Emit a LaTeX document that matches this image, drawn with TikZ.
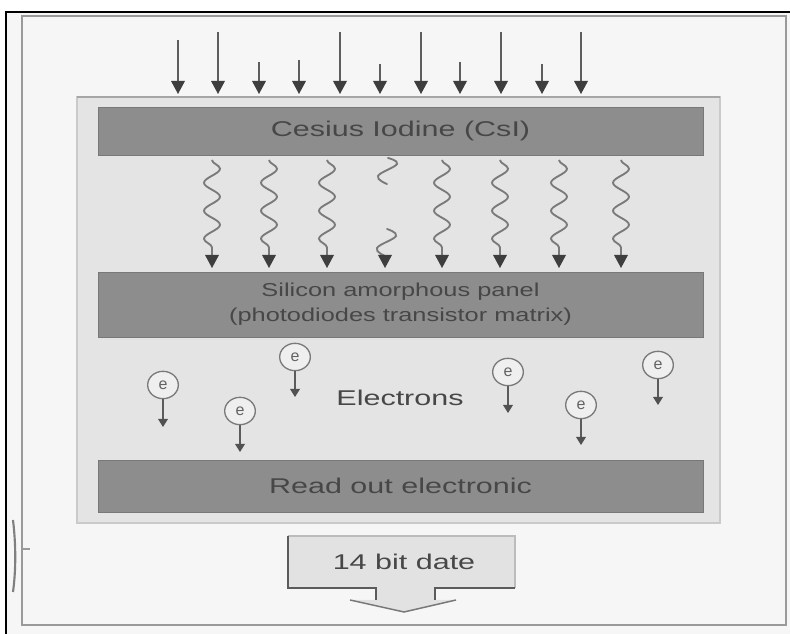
\documentclass[tikz,border=0pt]{standalone}
\usepackage{fontspec}
\setmainfont{Liberation Sans}
\usetikzlibrary{decorations.pathmorphing,shapes.geometric}
\definecolor{pagebg}{HTML}{F6F6F7}
\definecolor{panelfill}{HTML}{E4E4E5}
\definecolor{panelline}{HTML}{CACACA}
\definecolor{barfill}{HTML}{8D8D8E}
\definecolor{bartext}{HTML}{474747}
\definecolor{arrowdark}{HTML}{3E3E3E}
\definecolor{raygray}{HTML}{5E5E5E}
\definecolor{wavegray}{HTML}{7A7A7A}
\definecolor{framegray}{HTML}{9A9A9A}
\definecolor{boxfill}{HTML}{E2E2E3}
\newcommand{\wide}[1]{\scalebox{1.43}[1]{#1}}
\newcommand{\widesi}[1]{\scalebox{1.36}[1]{#1}}
\tikzset{
  barbox/.style={fill=barfill, draw=barfill!85!black, line width=0.6pt, minimum width=453.75pt, inner sep=0pt, text=bartext, align=center},
  bigtext/.style={font=\fontsize{16pt}{19pt}\selectfont},
  sitext/.style={font=\fontsize{14pt}{18.75pt}\selectfont},
  ray/.style={draw=raygray, line width=0.8pt},
  headfill/.style={fill=arrowdark},
  waveline/.style={draw=wavegray, line width=1.4pt},
  wave/.style={waveline, decorate, decoration={snake, amplitude=6pt, segment length=21pt}},
  electron/.style={ellipse, draw=wavegray, fill=panelfill!60!white, line width=1pt, minimum width=23pt, minimum height=20.5pt, inner sep=0pt, text=bartext!85, font=\fontsize{12pt}{13pt}\selectfont},
  etrail/.style={draw=arrowdark!85, line width=0.9pt}
}
\begin{document}
\begin{tikzpicture}[x=0.75pt,y=-0.75pt]
\useasboundingbox (0,0) rectangle (790,634);
\fill[white] (0,0) rectangle (790,634);
\fill[pagebg] (6,12) rectangle (790,634);
% page frames
\draw[framegray, line width=1.2pt] (22,16) rectangle (786,625);
\draw[black, line width=2pt] (6,634) -- (6,12) -- (790,12);
\draw[gray, line width=1.6pt] (13,520) .. controls (16,545) and (16,570) .. (13,592);
\draw[framegray, line width=0.8pt] (22,549) -- (30,549);
% panel
\filldraw[fill=panelfill, draw=panelline, line width=1.6pt] (77,97) rectangle (720,523);
\draw[gray!70, line width=0.8pt] (77,97) -- (720,97);
% bars
\node[barbox, bigtext, minimum height=36pt] (csi) at (400.5,131) {\wide{Cesius Iodine (CsI)}};
\node[barbox, sitext, minimum height=48.75pt] (si) at (400.5,304.5) {\widesi{Silicon amorphous panel}\\\widesi{(photodiodes transistor matrix)}};
\node[barbox, bigtext, minimum height=39pt] (ro) at (400.5,486) {\wide{Read out electronic}};
% incoming rays
\foreach \x/\s in {178/40, 218/32, 259/62, 299/60, 340/32, 380/64, 421/32, 460/62, 501/32, 542/64, 581/32}{
  \coordinate (rs\x) at (\x,\s);
  \coordinate (re\x) at (\x,82);
  \draw[ray] (rs\x) -- (re\x);
  \fill[headfill] (\x-7,81) -- (\x+7,81) -- (\x,94) -- cycle;
}
% light waves
\foreach \x in {212,269,327,442,500,559,621}{
  \coordinate (ws\x) at (\x,160);
  \coordinate (we\x) at (\x,255);
  \draw[wave] (ws\x) -- (we\x);
  \fill[headfill] (\x-7,255) -- (\x+7,255) -- (\x,268) -- cycle;
}
% broken wave
\draw[waveline, line cap=round] plot[smooth, tension=0.7] coordinates {(388,158) (397,164) (378,176) (387,184)};
\draw[waveline, line cap=round] plot[smooth, tension=0.7] coordinates {(387,229) (396,236) (377,248) (385,256)};
\fill[headfill] (385-7,255) -- (385+7,255) -- (385,268) -- cycle;
% electrons
\foreach \n/\x/\y/\e in {a/163/385/427, b/240/411/452, c/295/357/397, d/508/372/413, e/581/405/445, f/658/365/405}{
  \node[electron] (el\n) at (\x,\y) {e};
  \coordinate (et\n) at (\x,\e-6);
  \draw[etrail] (el\n.south) -- (et\n);
  \fill[arrowdark!90] (\x-5,\e-8) -- (\x+5,\e-8) -- (\x,\e) -- cycle;
}
\node[text=bartext, bigtext] (elec) at (400,398) {\wide{Electrons}};
% output block arrow
\fill[boxfill] (288,536) -- (515,536) -- (515,588) -- (435,588) -- (435,600) -- (456,600) -- (404,612) -- (350,600) -- (376,600) -- (376,588) -- (288,588) -- cycle;
\draw[wavegray!50, line width=0.8pt] (288,536) -- (515,536) -- (515,588);
\draw[arrowdark!85, line width=1.1pt] (288,536) -- (288,588) -- (376,588) -- (376,600);
\draw[arrowdark!85, line width=1.1pt] (435,600) -- (435,588) -- (515,588);
\draw[arrowdark!70, line width=1.1pt] (350,600) -- (404,612) -- (456,600);
\node[text=bartext, bigtext] (bits) at (404,562) {\wide{14 bit date}};
\end{tikzpicture}
\end{document}
